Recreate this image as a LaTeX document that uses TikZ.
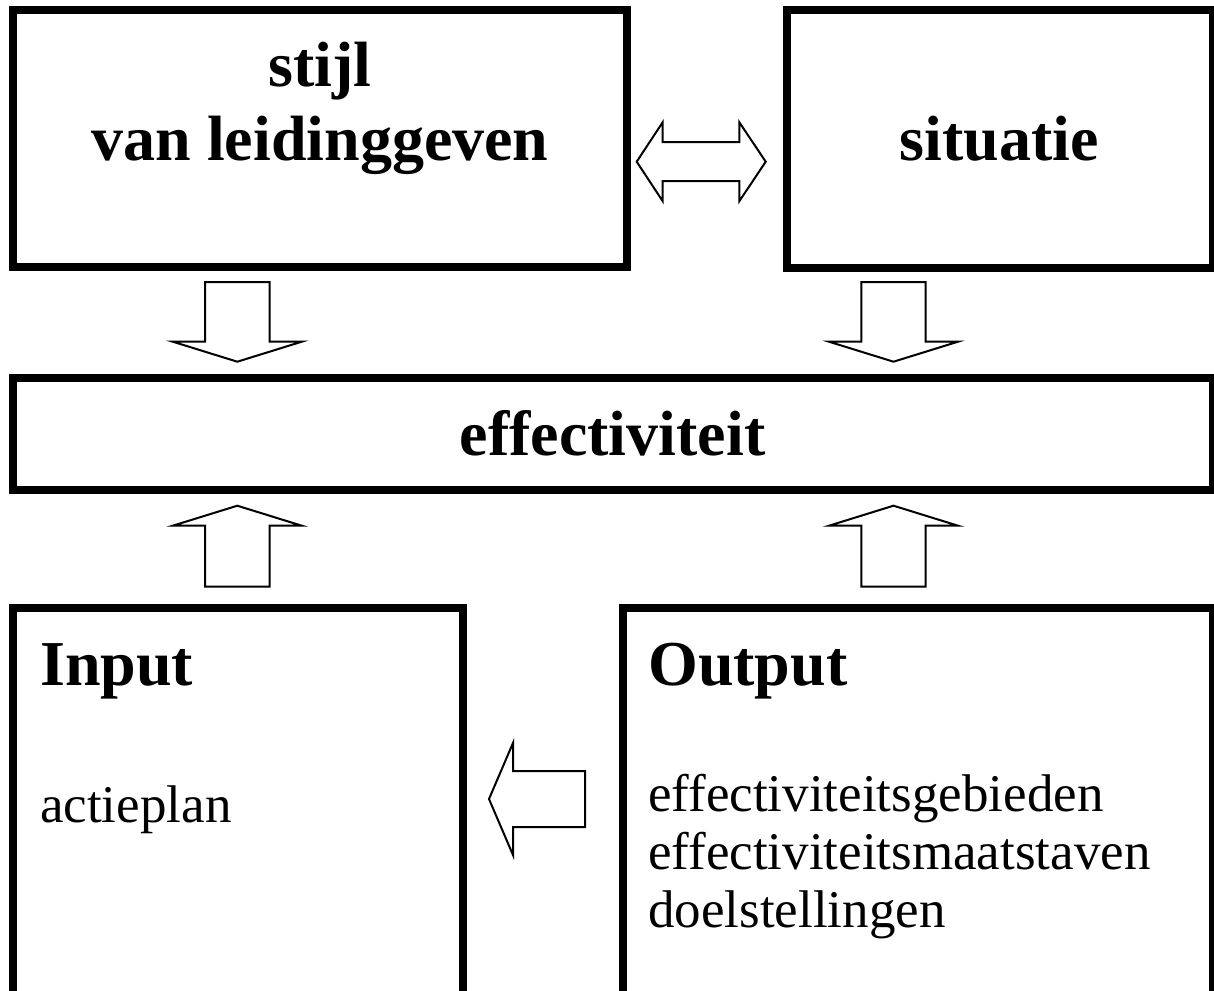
\documentclass[tikz,border=0pt]{standalone}
\usepackage{fontspec}
\setmainfont{Liberation Serif}
\tikzset{
  frame/.style={draw, line width=8pt, inner sep=0pt, outer sep=0pt},
  btitle/.style={inner sep=0pt, font=\fontsize{64}{75}\selectfont\bfseries},
  body/.style={inner sep=0pt, font=\fontsize{53}{58}\selectfont},
  blockarrow/.style={draw, fill=white, line width=2pt, line join=miter},
  pics/downarrow/.style={code={
    \draw[blockarrow] (0,0) -- (-64.5,-20) -- (-32.2,-20) -- (-32.2,-79.5)
      -- (32.2,-79.5) -- (32.2,-20) -- (64.5,-20) -- cycle;}},
  pics/uparrow/.style={code={
    \draw[blockarrow] (0,0) -- (-64.5,20) -- (-32.2,20) -- (-32.2,81)
      -- (32.2,81) -- (32.2,20) -- (64.5,20) -- cycle;}},
  pics/leftarrow/.style={code={
    \draw[blockarrow] (0,0) -- (24,-56) -- (24,-28) -- (96,-28)
      -- (96,28) -- (24,28) -- (24,56) -- cycle;}},
  pics/botharrow/.style={code={
    \draw[blockarrow] (0,0) -- (26,-39.5) -- (26,-19.5) -- (102.6,-19.5)
      -- (102.6,-39.5) -- (129,0) -- (102.6,39.5) -- (102.6,19.5)
      -- (26,19.5) -- (26,39.5) -- cycle;}},
}
\begin{document}
\begin{tikzpicture}[x=1pt, y=-1pt]
  \useasboundingbox (0,0) rectangle (1214,990);
  \clip (0,0) rectangle (1214,990);

  % boxes
  \node[frame, minimum width=614.3pt, minimum height=256.7pt] (stijl) at (319.85,138.35) {};
  \node[frame, minimum width=426pt, minimum height=258pt] (situatie) at (1000,139) {};
  \node[frame, minimum width=1200.3pt, minimum height=112pt] (eff) at (612.85,434) {};
  \node[frame, minimum width=450pt, minimum height=422pt] (input) at (237.7,819) {};
  \node[frame, minimum width=589.7pt, minimum height=422pt] (output) at (918.15,819) {};

  % texts
  \node[btitle, anchor=base] (stijl-a) at (320,86) {stijl};
  \node[btitle, anchor=base] (stijl-b) at (320,160) {van leidinggeven};
  \node[btitle, anchor=base] (sit-a) at (999,160) {situatie};
  \node[btitle, anchor=base] (eff-a) at (612.5,455) {effectiviteit};
  \node[btitle, anchor=base west] (in-a) at (40,685) {Input};
  \node[body, anchor=base west] (in-b) at (40,822) {actieplan};
  \node[btitle, anchor=base west] (out-a) at (648,685) {Output};
  \node[body, anchor=base west] (out-b) at (648,811) {effectiviteitsgebieden};
  \node[body, anchor=base west] (out-c) at (648,869) {effectiviteitsmaatstaven};
  \node[body, anchor=base west] (out-d) at (648,927) {doelstellingen};

  % block arrows between the boxes
  \pic at (636.7,161.7) {botharrow};
  \pic at (237.3,361.7) {downarrow};
  \pic at (893.5,361.7) {downarrow};
  \pic at (237.3,505.7) {uparrow};
  \pic at (893.5,505.7) {uparrow};
  \pic at (489,799) {leftarrow};
\end{tikzpicture}
\end{document}
